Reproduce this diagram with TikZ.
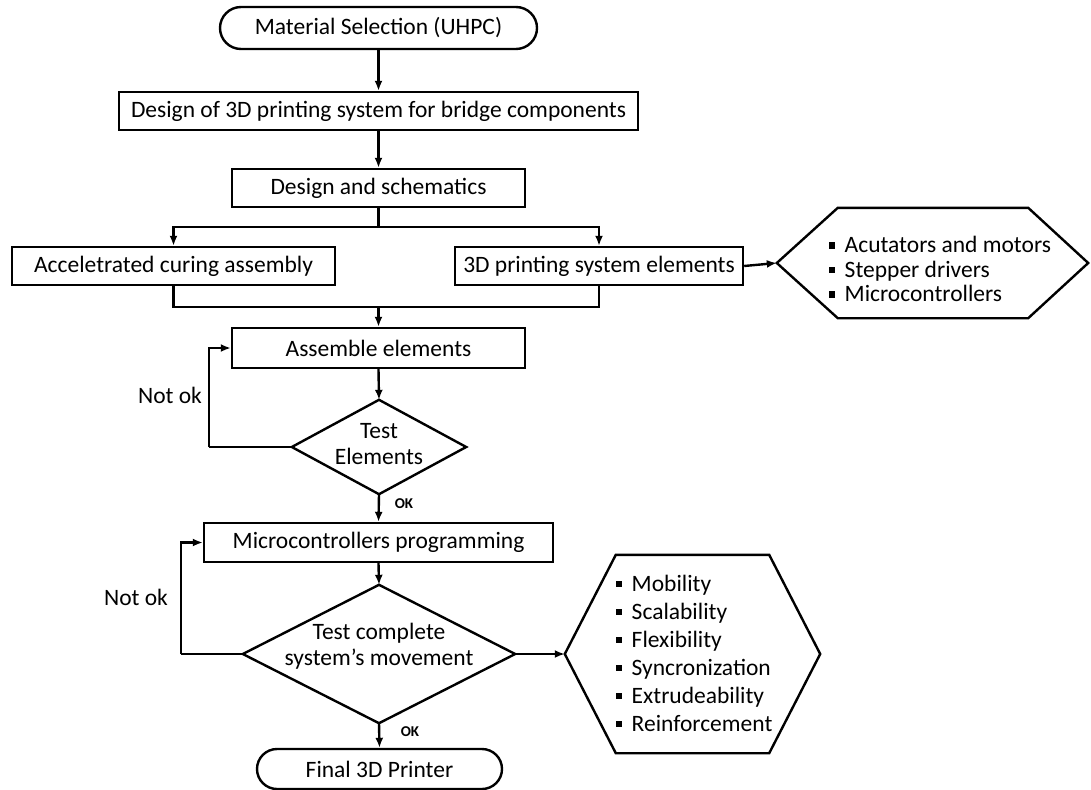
\documentclass[tikz,border=0pt]{standalone}
\usepackage{fontspec}
\setmainfont{Carlito}
\usetikzlibrary{arrows.meta,shapes.misc,calc}
\newcommand{\bulsq}{\rule[0.17em]{0.26em}{0.26em}\hspace{0.4em}}
\begin{document}
\begin{tikzpicture}[x=1pt,y=-1pt,
  every node/.style={font=\fontsize{23.5}{26.5}\selectfont, inner sep=0pt},
  line/.style={line width=2.4pt},
  arr/.style={line width=2.4pt,-{Latex[length=10pt,width=8pt]}},
  procbox/.style={draw,line width=2.4pt,rectangle,align=center},
  term/.style={draw,line width=2.4pt,rounded rectangle,align=center},
  holder/.style={rectangle,align=center},
  oklab/.style={font=\fontsize{15}{17}\selectfont\bfseries},
  notlab/.style={font=\fontsize{23.5}{26.5}\selectfont}]
\useasboundingbox (0,0) rectangle (1091,789);

\node[term, minimum width=317, minimum height=42] (mat) at (378.5,28) {Material Selection (UHPC)};
\node[procbox, minimum width=519, minimum height=38] (design) at (378.5,111) {Design of 3D printing system for bridge components};
\node[procbox, minimum width=293, minimum height=38] (schem) at (378.5,188) {Design and schematics};
\node[procbox, minimum width=323, minimum height=38] (acc) at (173.5,266) {Acceletrated curing assembly};
\node[procbox, minimum width=288, minimum height=38] (pse) at (599,266) {3D printing system elements};

% hexagon 1
\node[holder, minimum width=311, minimum height=110] (hexA) at (932.5,263) {};
\draw[line] (hexA.west) -- ($(hexA.north west)+(61,0)$) -- ($(hexA.north east)+(-60,0)$) -- (hexA.east) -- ($(hexA.south east)+(-60,0)$) -- ($(hexA.south west)+(61,0)$) -- cycle;
\node[anchor=west, align=left, font=\fontsize{23.5}{24.5}\selectfont] (hexAtxt) at (829,269) {\bulsq Acutators and motors\\\bulsq Stepper drivers\\\bulsq Microcontrollers};

\node[procbox, minimum width=293, minimum height=40] (asm) at (378.5,348) {Assemble elements};
\node[holder, minimum width=174, minimum height=94] (te) at (379,447) {};
\node[align=center] (tetxt) at (379,444) {Test\\Elements};
\draw[line] (te.north) -- (te.east) -- (te.south) -- (te.west) -- cycle;

\node[procbox, minimum width=349, minimum height=39] (mp) at (378.5,542.5) {Microcontrollers programming};
\node[holder, minimum width=272, minimum height=138] (tcs) at (379,654) {};
\node[align=center] (tcstxt) at (379,646) {Test complete\\system’s movement};
\draw[line] (tcs.north) -- (tcs.east) -- (tcs.south) -- (tcs.west) -- cycle;

% hexagon 2
\node[holder, minimum width=255, minimum height=198] (hexB) at (692.5,654) {};
\draw[line] (hexB.west) -- ($(hexB.north west)+(51,0)$) -- ($(hexB.north east)+(-51,0)$) -- (hexB.east) -- ($(hexB.south east)+(-51,0)$) -- ($(hexB.south west)+(51,0)$) -- cycle;
\node[anchor=west, align=left, font=\fontsize{23.5}{28}\selectfont] (hexBtxt) at (616,653) {\bulsq Mobility\\\bulsq Scalability\\\bulsq Flexibility\\\bulsq Syncronization\\\bulsq Extrudeability\\\bulsq Reinforcement};

\node[term, minimum width=245, minimum height=40] (fin) at (379.5,769) {Final 3D Printer};

\node[notlab] (no1) at (170,395) {Not ok};
\node[notlab] (no2) at (136,597) {Not ok};
\node[oklab] (ok1) at (404,504) {OK};
\node[oklab] (ok2) at (410,732) {OK};

\coordinate (split) at (378.5,227);
\coordinate (merge) at (378.5,307);
\coordinate (l1) at (209,447);
\coordinate (l2) at (181,654);

\draw[arr] (mat.south) -- (design.north);
\draw[arr] (design.south) -- (schem.north);
\draw[line] (schem.south) -- (split);
\draw[arr] (split) -| (acc.north);
\draw[arr] (split) -| (pse.north);
\draw[line] (acc.south) |- (merge) -| (pse.south);
\draw[arr] (merge) -- (asm.north);
\draw[arr] (pse.east) -- (hexA.west);
\draw[arr] (asm.south) -- (te.north);
\draw[line] (te.west) -- (l1);
\draw[arr] (l1) |- (asm.west);
\draw[arr] (te.south) -- (mp.north);
\draw[arr] (mp.south) -- (tcs.north);
\draw[line] (tcs.west) -- (l2);
\draw[arr] (l2) |- (mp.west);
\draw[arr] (tcs.east) -- (hexB.west);
\draw[arr] (tcs.south) -- (fin.north);
\end{tikzpicture}
\end{document}
